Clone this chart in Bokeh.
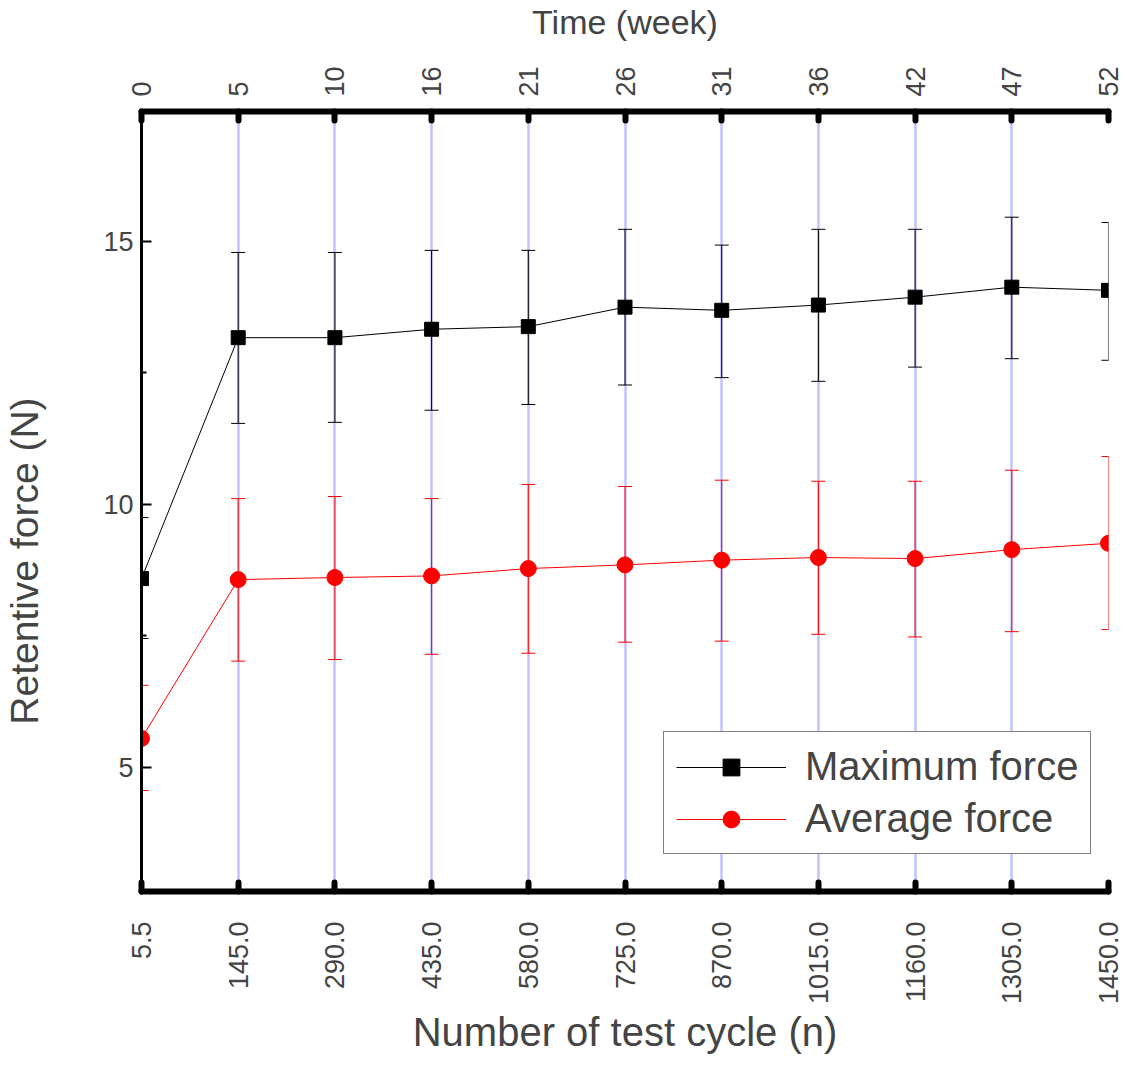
from bokeh.plotting import figure
from bokeh.models import (LinearAxis, FixedTicker, Range1d, Legend, LegendItem,
                          ColumnDataSource, Grid, Title)
from bokeh.embed import file_html
from bokeh.resources import INLINE
import math

# ---- data ----
cycles = ["5.5", "145.0", "290.0", "435.0", "580.0", "725.0", "870.0",
          "1015.0", "1160.0", "1305.0", "1450.0"]
weeks = ["0", "5", "10", "16", "21", "26", "31", "36", "42", "47", "52"]

max_force = [8.59, 13.17, 13.17, 13.33, 13.38, 13.75, 13.69, 13.79, 13.94, 14.13, 14.07]
max_upper = [9.75, 14.79, 14.79, 14.83, 14.83, 15.23, 14.93, 15.23, 15.23, 15.46, 15.36]
max_lower = [7.45, 11.54, 11.56, 11.79, 11.90, 12.27, 12.41, 12.34, 12.61, 12.77, 12.74]

avg_force = [5.55, 8.57, 8.61, 8.64, 8.78, 8.85, 8.94, 8.99, 8.97, 9.14, 9.26]
avg_upper = [6.56, 10.11, 10.15, 10.11, 10.38, 10.34, 10.46, 10.44, 10.44, 10.65, 10.91]
avg_lower = [4.56, 7.02, 7.05, 7.15, 7.17, 7.38, 7.40, 7.53, 7.48, 7.58, 7.62]

xs = list(range(len(cycles)))

FONT = "Liberation Sans"
TICK_SIZE = "27px"

p = figure(frame_width=967, frame_height=780, output_backend="svg", toolbar_location=None,
           x_range=Range1d(0, len(cycles) - 1), y_range=Range1d(2.64, 17.47),
           x_axis_location=None, y_axis_location=None)
p.outline_line_color = None
p.background_fill_color = "white"
p.border_fill_color = "white"
for gr in p.grid:
    gr.visible = False

# left axis (trailing no-break spaces shift the title's centre downwards as in the original)
yax = LinearAxis(axis_label="Retentive force (N)" + "\u00a0" * 11,
                 ticker=FixedTicker(ticks=[5, 10, 15], minor_ticks=[7.5, 12.5]))
yax.axis_line_width = 3
yax.major_tick_in = 10
yax.major_tick_out = 0
yax.minor_tick_in = 5
yax.minor_tick_out = 0
yax.major_tick_line_width = 2
yax.minor_tick_line_width = 2
yax.major_label_standoff = 8
yax.major_label_text_font = FONT
yax.major_label_text_font_size = TICK_SIZE
yax.axis_label_text_font = FONT
yax.axis_label_text_font_size = "39px"
yax.axis_label_text_font_style = "normal"
yax.axis_label_standoff = 54
p.add_layout(yax, "left")


def x_axis(label, names, standoff, title_standoff, title_size):
    ax = LinearAxis(axis_label=label, ticker=FixedTicker(ticks=xs, minor_ticks=[]))
    ax.major_label_overrides = {i: n for i, n in zip(xs, names)}
    ax.major_label_orientation = math.pi / 2
    ax.axis_line_width = 6
    ax.major_tick_in = 9
    ax.major_tick_out = 0
    ax.major_tick_line_width = 6
    ax.major_tick_line_cap = "round"
    ax.axis_line_cap = "round"
    ax.minor_tick_line_color = None
    ax.major_label_standoff = standoff
    ax.major_label_text_font = FONT
    ax.major_label_text_font_size = TICK_SIZE
    ax.axis_label_text_font = FONT
    ax.axis_label_text_font_size = title_size
    ax.axis_label_text_font_style = "normal"
    ax.axis_label_standoff = title_standoff
    return ax


p.add_layout(x_axis("Number of test cycle (n)", cycles, 30, 3, "40px"), "below")
p.add_layout(x_axis("Time (week)", weeks, 15, 22, "34px"), "above")

# small blank margin on the right so that the last tick labels are not cut
p.add_layout(Title(text="\u00a0", text_font_size="10px", standoff=3), "right")

# vertical grid lines
g = Grid(dimension=0, ticker=FixedTicker(ticks=xs))
g.grid_line_color = "#c2c2ff"
g.grid_line_width = 2.5
p.add_layout(g)

src_max = ColumnDataSource(dict(x=xs, y=max_force, lo=max_lower, hi=max_upper))
src_avg = ColumnDataSource(dict(x=xs, y=avg_force, lo=avg_lower, hi=avg_upper))

# error bars
for src, col in ((src_max, "black"), (src_avg, "red")):
    p.segment(x0="x", y0="lo", x1="x", y1="hi", source=src, line_color=col, line_width=1)
    p.scatter(x="x", y="hi", source=src, marker="dash", size=14, line_color=col, line_width=1)
    p.scatter(x="x", y="lo", source=src, marker="dash", size=14, line_color=col, line_width=1)

l1 = p.line(x="x", y="y", source=src_max, line_color="black", line_width=1)
m1 = p.scatter(x="x", y="y", source=src_max, marker="square", size=14,
               fill_color="black", line_color="black")
l2 = p.line(x="x", y="y", source=src_avg, line_color="red", line_width=1)
m2 = p.scatter(x="x", y="y", source=src_avg, marker="circle", size=16,
               fill_color="red", line_color="red")

legend = Legend(items=[LegendItem(label="Maximum force", renderers=[l1, m1]),
                       LegendItem(label="Average force", renderers=[l2, m2])],
                location=(522, 37))
legend.border_line_color = "black"
legend.border_line_width = 1.5
legend.background_fill_alpha = 1
legend.label_text_font = FONT
legend.label_text_font_size = "40px"
legend.glyph_width = 110
legend.glyph_height = 42
legend.spacing = 7
legend.padding = 12
legend.margin = 0
legend.label_standoff = 19
legend.label_height = 42
p.add_layout(legend, "center")

open("out.html", "w").write(file_html(p, INLINE))
